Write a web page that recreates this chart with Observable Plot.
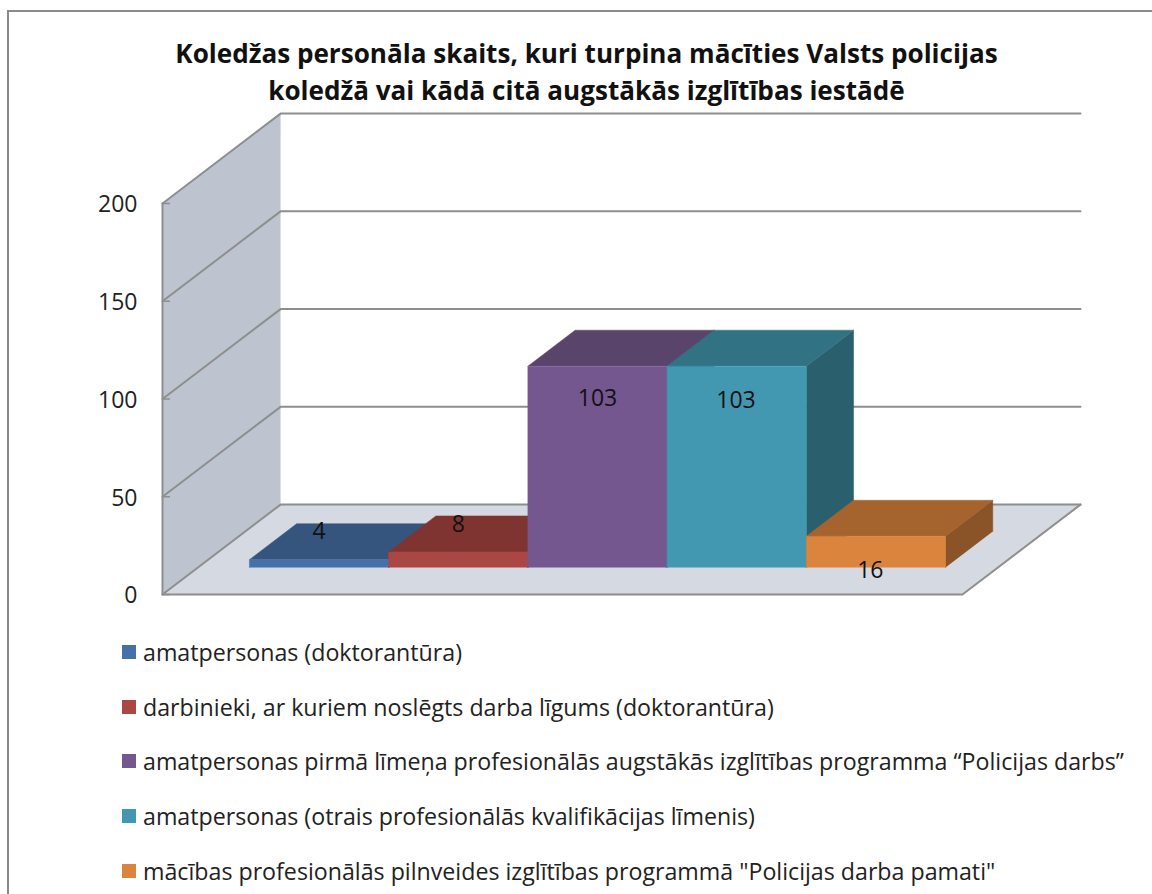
<!DOCTYPE html>
<html lang="lv">
<head>
<meta charset="utf-8">
<script src="https://cdn.jsdelivr.net/npm/d3@7"></script>
<script src="https://cdn.jsdelivr.net/npm/@observablehq/plot@0.6"></script>
<style>
html,body{margin:0;padding:0;background:#fff;overflow:hidden;height:894px}
#page{position:relative;width:1152px;height:894px;overflow:hidden;font-family:"Open Sans",sans-serif;color:#111}
#frame{position:absolute;left:7px;top:10px;right:-5px;height:900px;border:2.5px solid #8a8a8a;box-sizing:border-box}
#title{position:absolute;left:0;top:35px;width:1173px;text-align:center;font-weight:700;font-size:26.1px;line-height:37px;color:#111}
#chart{position:absolute;left:0;top:108px}
#legend{position:absolute;left:122px;top:624.5px}
#legend div{display:flex;align-items:center;height:54.7px;font-size:23.2px;white-space:nowrap;color:#222}
#legend i{display:inline-block;width:14px;height:14px;margin-right:7px}
</style>
</head>
<body>
<div id="page">
<div id="frame"></div>
<div id="title"></div>
<div id="chart"></div>
<div id="legend"></div>
</div>
<script>
const titleLines = [
  "Koledžas personāla skaits, kuri turpina mācīties Valsts policijas",
  "koledžā vai kādā citā augstākās izglītības iestādē"
];
const categories = [
  "amatpersonas (doktorantūra)",
  "darbinieki, ar kuriem noslēgts darba līgums (doktorantūra)",
  "amatpersonas pirmā līmeņa profesionālās augstākās izglītības programma “Policijas darbs”",
  "amatpersonas (otrais profesionālās kvalifikācijas līmenis)",
  "mācības profesionālās pilnveides izglītības programmā \"Policijas darba pamati\""
];
const values = [4, 8, 103, 103, 16];
const yTicks = [0, 50, 100, 150, 200];
const frontColors = ["#4472a8", "#aa4643", "#73578e", "#4198b0", "#db843d"];
const topColors   = ["#35557f", "#803432", "#59446c", "#317283", "#a5632e"];
const sideColors  = ["#2f4c72", "#6f2d2b", "#4d3a5e", "#2a606e", "#8a5328"];
const wallColor = "#bec4cf", floorColor = "#d4d9e2", lineColor = "#8e8e8e";

// oblique 3-D model: u along the categories, v = value, d = depth (0 front, 1 back wall)
const uMin = -0.37, uMax = 5.376, barFront = 0.3, barBack = 0.7;
const px = (u, d) => u + 0.848 * d;
const py = (v, d) => v + 46 * d;
const P = (u, v, d) => ({x: px(u, d), y: py(v, d)});

function face(id, color, pts) { return pts.map(p => ({...p, id, color})); }

const planes = [
  ...face("wall", wallColor, [P(uMin,0,0), P(uMin,200,0), P(uMin,200,1), P(uMin,0,1)]),
  ...face("floor", floorColor, [P(uMin,0,0), P(uMin,0,1), P(uMax,0,1), P(uMax,0,0)])
];
const edges = [
  ...yTicks.flatMap(t => [
    {...P(uMin,t,0), id:"w"+t}, {...P(uMin,t,1), id:"w"+t}, {...P(uMax,t,1), id:"w"+t}
  ]),
  {...P(uMin,0,0), id:"f"}, {...P(uMax,0,0), id:"f"}, {...P(uMax,0,1), id:"f"},
  {...P(uMin,0,0), id:"l"}, {...P(uMin,200,0), id:"l"}
];
const bars = values.flatMap((v, i) => [
  ...face("s"+i, sideColors[i],  [P(i+1,0,barFront), P(i+1,v,barFront), P(i+1,v,barBack), P(i+1,0,barBack)]),
  ...face("t"+i, topColors[i],   [P(i,v,barFront), P(i,v,barBack), P(i+1,v,barBack), P(i+1,v,barFront)]),
  ...face("f"+i, frontColors[i], [P(i,0,barFront), P(i,v,barFront), P(i+1,v,barFront), P(i+1,0,barFront)])
]);
const labelLift = [14.3, 13.8, -16.4, -17.4, -17.4];
const labelShift = [0, 0, 0, -0.005, -0.04];
const labels = values.map((v, i) => ({
  x: px(i + 0.5 + labelShift[i], barFront), y: py(v + labelLift[i], barFront), text: String(v)
}));

document.getElementById("title").innerHTML = titleLines.join("<br>");
document.getElementById("legend").append(...categories.map((c, i) => {
  const row = document.createElement("div");
  const sw = document.createElement("i");
  sw.style.background = frontColors[i];
  row.append(sw, c);
  return row;
}));

const chart = Plot.plot({
  width: 1152, height: 530,
  marginLeft: 162, marginRight: 0, marginTop: 0, marginBottom: 0,
  x: {domain: [uMin, 6.741], axis: null},
  y: {domain: [-22.5, 248.6]},
  color: {type: "identity"},
  style: {background: "transparent", overflow: "visible"},
  marks: [
    Plot.line(planes, {x:"x", y:"y", z:"id", fill:"color", stroke:null}),
    Plot.line(edges, {x:"x", y:"y", z:"id", stroke:lineColor, strokeWidth:2, curve:"linear"}),
    Plot.line(bars, {x:"x", y:"y", z:"id", fill:"color", stroke:"color", strokeWidth:0.5}),
    Plot.axisY({ticks:yTicks, anchor:"left", label:null, tickSize:-8, stroke:lineColor, strokeWidth:1.5, text:null}),
    Plot.axisY({ticks:yTicks, anchor:"left", label:null, tickSize:0, tickPadding:25, dy:1.5,
      fontSize:23, fontFamily:"Open Sans, sans-serif", fill:"#222"}),
    Plot.text(labels, {x:"x", y:"y", text:"text", fontSize:23, fontFamily:"Open Sans, sans-serif", fill:"#111"})
  ]
});
document.getElementById("chart").append(chart);
</script>
</body>
</html>
